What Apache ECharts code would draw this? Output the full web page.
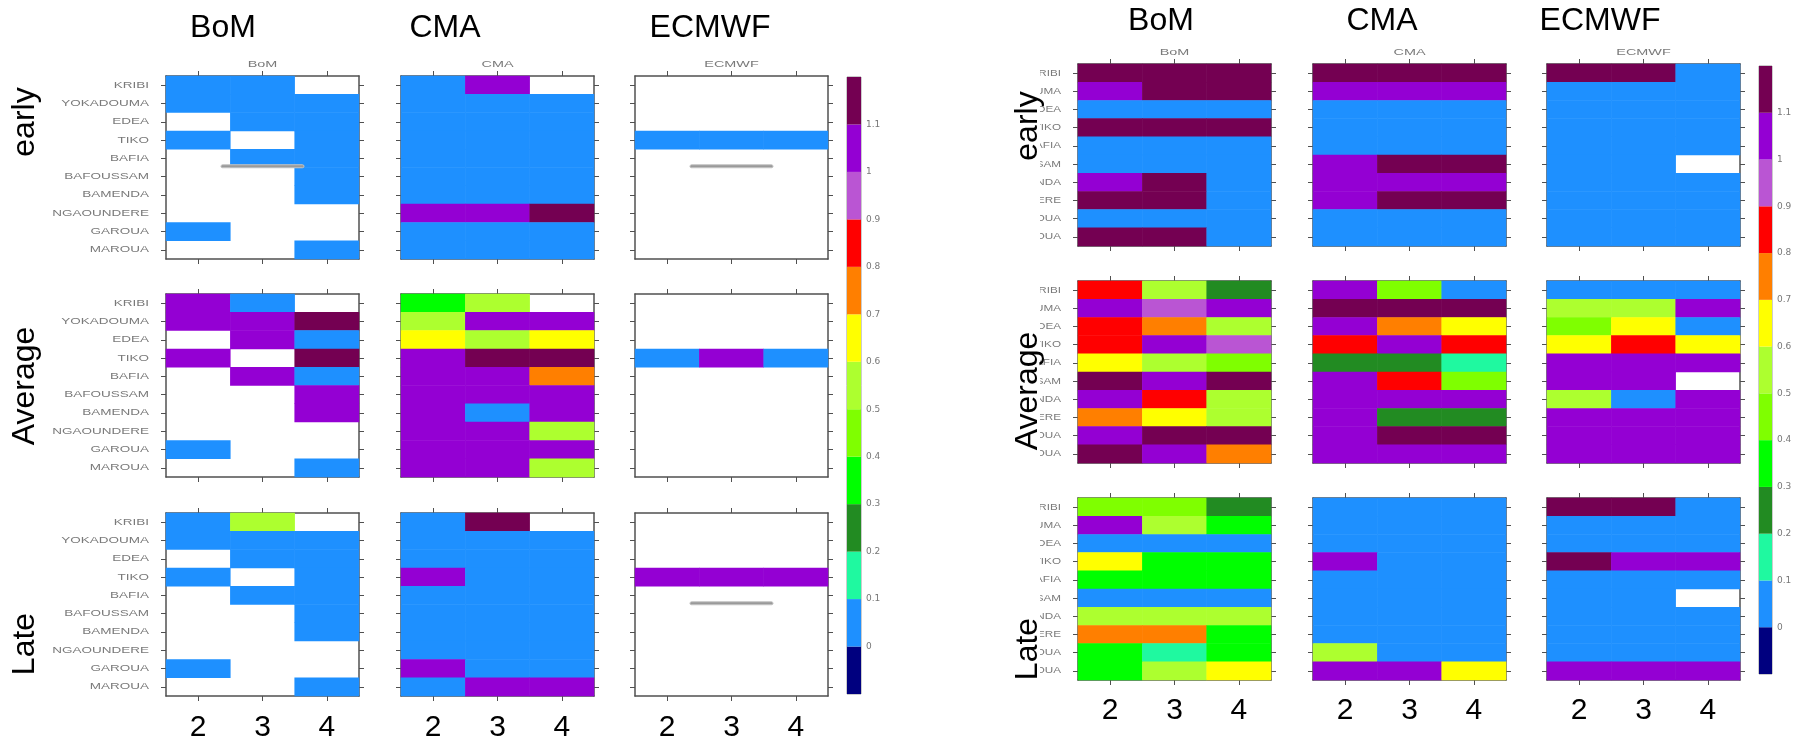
<!DOCTYPE html>
<html>
<head>
<meta charset="utf-8">
<script src="https://cdn.jsdelivr.net/npm/echarts@6/dist/echarts.min.js"></script>
<style>
html, body { margin: 0; padding: 0; background: #fff; }
#main { width: 1802px; height: 745px; }
</style>
</head>
<body>
<div id="main"></div>
<script>
var stations = ['KRIBI', 'YOKADOUMA', 'EDEA', 'TIKO', 'BAFIA', 'BAFOUSSAM', 'BAMENDA', 'NGAOUNDERE', 'GAROUA', 'MAROUA'];
var leads = ['2', '3', '4'];
var models = ['BoM', 'CMA', 'ECMWF'];
var periods = ['early', 'Average', 'Late'];

// colour key: bin edges, colours, printed labels
var breaks = [-0.1, 0, 0.1, 0.2, 0.3, 0.4, 0.5, 0.6, 0.7, 0.8, 0.9, 1, 1.1, 1.2];
var binColors = ['#00007f', '#1e90ff', '#1ff9a0', '#228b22', '#00ff00', '#7fff00', '#adff2f',
    '#ffff00', '#ff7f00', '#ff0000', '#ba55d3', '#9400d3', '#740052'];
var keyLabels = ['0', '0.1', '0.2', '0.3', '0.4', '0.5', '0.6', '0.7', '0.8', '0.9', '1', '1.1'];

// rows = stations (KRIBI..MAROUA), columns = lead 2,3,4 ; '-' = no value (white)
// ---- left figure ----
var bomEarlyL = [[0.05, 0.05, '-'], [0.05, 0.05, 0.05], ['-', 0.05, 0.05], [0.05, '-', 0.05], ['-', 0.05, 0.05],
    ['-', '-', 0.05], ['-', '-', 0.05], ['-', '-', '-'], [0.05, '-', '-'], ['-', '-', 0.05]];
var cmaEarlyL = [[0.05, 1.05, '-'], [0.05, 0.05, 0.05], [0.05, 0.05, 0.05], [0.05, 0.05, 0.05], [0.05, 0.05, 0.05],
    [0.05, 0.05, 0.05], [0.05, 0.05, 0.05], [1.05, 1.05, 1.15], [0.05, 0.05, 0.05], [0.05, 0.05, 0.05]];
var ecmwfEarlyL = [['-', '-', '-'], ['-', '-', '-'], ['-', '-', '-'], [0.05, 0.05, 0.05], ['-', '-', '-'],
    ['-', '-', '-'], ['-', '-', '-'], ['-', '-', '-'], ['-', '-', '-'], ['-', '-', '-']];
var bomAvgL = [[1.05, 0.05, '-'], [1.05, 1.05, 1.15], ['-', 1.05, 0.05], [1.05, '-', 1.15], ['-', 1.05, 0.05],
    ['-', '-', 1.05], ['-', '-', 1.05], ['-', '-', '-'], [0.05, '-', '-'], ['-', '-', 0.05]];
var cmaAvgL = [[0.35, 0.55, '-'], [0.55, 1.05, 1.05], [0.65, 0.55, 0.65], [1.05, 1.15, 1.15], [1.05, 1.05, 0.75],
    [1.05, 1.05, 1.05], [1.05, 0.05, 1.05], [1.05, 1.05, 0.55], [1.05, 1.05, 1.05], [1.05, 1.05, 0.55]];
var ecmwfAvgL = [['-', '-', '-'], ['-', '-', '-'], ['-', '-', '-'], [0.05, 1.05, 0.05], ['-', '-', '-'],
    ['-', '-', '-'], ['-', '-', '-'], ['-', '-', '-'], ['-', '-', '-'], ['-', '-', '-']];
var bomLateL = [[0.05, 0.55, '-'], [0.05, 0.05, 0.05], ['-', 0.05, 0.05], [0.05, '-', 0.05], ['-', 0.05, 0.05],
    ['-', '-', 0.05], ['-', '-', 0.05], ['-', '-', '-'], [0.05, '-', '-'], ['-', '-', 0.05]];
var cmaLateL = [[0.05, 1.15, '-'], [0.05, 0.05, 0.05], [0.05, 0.05, 0.05], [1.05, 0.05, 0.05], [0.05, 0.05, 0.05],
    [0.05, 0.05, 0.05], [0.05, 0.05, 0.05], [0.05, 0.05, 0.05], [1.05, 0.05, 0.05], [0.05, 1.05, 1.05]];
var ecmwfLateL = [['-', '-', '-'], ['-', '-', '-'], ['-', '-', '-'], [1.05, 1.05, 1.05], ['-', '-', '-'],
    ['-', '-', '-'], ['-', '-', '-'], ['-', '-', '-'], ['-', '-', '-'], ['-', '-', '-']];

// ---- right figure ----
var bomEarlyR = [[1.15, 1.15, 1.15], [1.05, 1.15, 1.15], [0.05, 0.05, 0.05], [1.15, 1.15, 1.15], [0.05, 0.05, 0.05],
    [0.05, 0.05, 0.05], [1.05, 1.15, 0.05], [1.15, 1.15, 0.05], [0.05, 0.05, 0.05], [1.15, 1.15, 0.05]];
var cmaEarlyR = [[1.15, 1.15, 1.15], [1.05, 1.05, 1.05], [0.05, 0.05, 0.05], [0.05, 0.05, 0.05], [0.05, 0.05, 0.05],
    [1.05, 1.15, 1.15], [1.05, 1.05, 1.05], [1.05, 1.15, 1.15], [0.05, 0.05, 0.05], [0.05, 0.05, 0.05]];
var ecmwfEarlyR = [[1.15, 1.15, 0.05], [0.05, 0.05, 0.05], [0.05, 0.05, 0.05], [0.05, 0.05, 0.05], [0.05, 0.05, 0.05],
    [0.05, 0.05, '-'], [0.05, 0.05, 0.05], [0.05, 0.05, 0.05], [0.05, 0.05, 0.05], [0.05, 0.05, 0.05]];
var bomAvgR = [[0.85, 0.55, 0.25], [1.05, 0.95, 1.05], [0.85, 0.75, 0.55], [0.85, 1.05, 0.95], [0.65, 0.55, 0.45],
    [1.15, 1.05, 1.15], [1.05, 0.85, 0.55], [0.75, 0.65, 0.55], [1.05, 1.15, 1.15], [1.15, 1.05, 0.75]];
var cmaAvgR = [[1.05, 0.45, 0.05], [1.15, 1.15, 1.15], [1.05, 0.75, 0.65], [0.85, 1.05, 0.85], [0.25, 0.25, 0.15],
    [1.05, 0.85, 0.45], [1.05, 1.05, 1.05], [1.05, 0.25, 0.25], [1.05, 1.15, 1.15], [1.05, 1.05, 1.05]];
var ecmwfAvgR = [[0.05, 0.05, 0.05], [0.55, 0.55, 1.05], [0.45, 0.65, 0.05], [0.65, 0.85, 0.65], [1.05, 1.05, 1.05],
    [1.05, 1.05, '-'], [0.55, 0.05, 1.05], [1.05, 1.05, 1.05], [1.05, 1.05, 1.05], [1.05, 1.05, 1.05]];
var bomLateR = [[0.45, 0.45, 0.25], [1.05, 0.55, 0.35], [0.05, 0.05, 0.05], [0.65, 0.35, 0.35], [0.35, 0.35, 0.35],
    [0.05, 0.05, 0.05], [0.55, 0.55, 0.55], [0.75, 0.75, 0.35], [0.35, 0.15, 0.35], [0.35, 0.55, 0.65]];
var cmaLateR = [[0.05, 0.05, 0.05], [0.05, 0.05, 0.05], [0.05, 0.05, 0.05], [1.05, 0.05, 0.05], [0.05, 0.05, 0.05],
    [0.05, 0.05, 0.05], [0.05, 0.05, 0.05], [0.05, 0.05, 0.05], [0.55, 0.05, 0.05], [1.05, 1.05, 0.65]];
var ecmwfLateR = [[1.15, 1.15, 0.05], [0.05, 0.05, 0.05], [0.05, 0.05, 0.05], [1.15, 1.05, 1.05], [0.05, 0.05, 0.05],
    [0.05, 0.05, '-'], [0.05, 0.05, 0.05], [0.05, 0.05, 0.05], [0.05, 0.05, 0.05], [1.05, 1.05, 1.05]];

// layout of the two figures (pixels)
var figs = [
    {
        colX: [166, 401, 635], w: 193, rowY: [76, 294, 513], h: 183,
        data: [[bomEarlyL, cmaEarlyL, ecmwfEarlyL], [bomAvgL, cmaAvgL, ecmwfAvgL], [bomLateL, cmaLateL, ecmwfLateL]],
        key: {x: 847, y: 77, w: 14, h: 617},
        titleX: [223, 445, 710], titleY: 28,
        rowLabelX: 25, rowLabelY: [122, 386, 644],
        leadY: 728, mask: {x: 0, w: 52}, labelScale: 1.5,
        // little grey boxes left inside some panels: [row, col]
        blobs: [[0, 0], [0, 2], [2, 2]]
    },
    {
        colX: [1078, 1313, 1547], w: 193, rowY: [64, 281, 498], h: 182,
        data: [[bomEarlyR, cmaEarlyR, ecmwfEarlyR], [bomAvgR, cmaAvgR, ecmwfAvgR], [bomLateR, cmaLateR, ecmwfLateR]],
        key: {x: 1759, y: 66, w: 13, h: 608},
        titleX: [1161, 1382, 1600], titleY: 21,
        rowLabelX: 1028, rowLabelY: [126, 391, 649],
        leadY: 711, mask: {x: 890, w: 150}, labelScale: 1.3,
        blobs: []
    }
];

var frameColor = '#505050';
var grids = [], xAxes = [], yAxes = [], series = [], graphics = [], heatIdx = [];

function frameAxis(extra) {
    var a = {
        axisLine: {show: true, lineStyle: {color: frameColor, width: 1.5}},
        axisTick: {show: true, alignWithLabel: true, length: 5, lineStyle: {color: frameColor}},
        axisLabel: {show: false},
        splitLine: {show: false},
        splitArea: {show: false}
    };
    for (var k in extra) a[k] = extra[k];
    return a;
}

function smallText(txt, x, y, align, sx) {
    return {type: 'text', x: x, y: y, scaleX: sx, silent: true,
        style: {text: txt, fontFamily: 'Liberation Sans', fontSize: 9, fill: '#7a7a7a',
            textAlign: align, textVerticalAlign: 'middle'}};
}

figs.forEach(function (f, fi) {
    var rowH = f.h / stations.length;
    for (var r = 0; r < 3; r++) {
        for (var c = 0; c < 3; c++) {
            var gi = grids.length;
            grids.push({left: f.colX[c], top: f.rowY[r], width: f.w, height: f.h});
            var xi = xAxes.length, yi = yAxes.length;
            xAxes.push(frameAxis({type: 'category', data: leads, gridIndex: gi, position: 'bottom'}));
            xAxes.push(frameAxis({type: 'category', data: leads, gridIndex: gi, position: 'top'}));
            yAxes.push(frameAxis({type: 'category', data: stations, gridIndex: gi, position: 'left', inverse: true}));
            yAxes.push(frameAxis({type: 'category', data: stations, gridIndex: gi, position: 'right', inverse: true}));

            var vals = f.data[r][c], pts = [];
            for (var s = 0; s < stations.length; s++) {
                for (var l = 0; l < leads.length; l++) {
                    if (vals[s][l] !== '-') pts.push([l, s, vals[s][l]]);
                }
            }
            heatIdx.push(series.length);
            series.push({type: 'heatmap', xAxisIndex: xi, yAxisIndex: yi, data: pts, silent: true,
                itemStyle: {borderWidth: 0}});

            // station names, stretched like the original raster text
            if (c === 0) {
                for (var s2 = 0; s2 < stations.length; s2++) {
                    graphics.push(smallText(stations[s2], f.colX[0] - 17, f.rowY[r] + rowH * (s2 + 0.5), 'right', f.labelScale));
                }
            }
            if (r === 0) {
                graphics.push(smallText(models[c], f.colX[c] + f.w / 2, f.rowY[0] - 11, 'center', 1.6));
                graphics.push({type: 'text', x: f.titleX[c], y: f.titleY, z: 60,
                    style: {text: models[c], fontFamily: 'Liberation Sans', fontSize: 32, fill: '#000',
                        textAlign: 'center', textVerticalAlign: 'middle'}});
            }
            if (r === 2) {
                for (var l2 = 0; l2 < leads.length; l2++) {
                    graphics.push({type: 'text', x: f.colX[c] + f.w * (l2 + 0.5) / 3, y: f.leadY,
                        style: {text: leads[l2], fontFamily: 'Liberation Sans', fontSize: 30, fill: '#000',
                            textAlign: 'center', textVerticalAlign: 'middle'}});
                }
            }
        }
        graphics.push({type: 'text', x: f.rowLabelX, y: f.rowLabelY[r], rotation: Math.PI / 2, z: 60,
            style: {text: periods[r], fontFamily: 'Liberation Sans', fontSize: 32, fill: '#000',
                textAlign: 'center', textVerticalAlign: 'middle'}});
    }

    f.blobs.forEach(function (bp) {
        graphics.push({type: 'rect', x: f.colX[bp[1]] + f.w * 0.285, y: f.rowY[bp[0]] + rowH * 4.85,
            shape: {width: f.w * 0.43, height: 3, r: 1.5},
            style: {fill: '#9a9a9a', stroke: '#c4c4c4', lineWidth: 1}, z: 20});
    });

    // white strip clipping the station names, like the cropped original
    graphics.push({type: 'rect', shape: {x: f.mask.x, y: 40, width: f.mask.w, height: 670},
        style: {fill: '#fff'}, z: 50});

    // colour key drawn as stacked bars on a value axis
    var kg = grids.length;
    grids.push({left: f.key.x, top: f.key.y, width: f.key.w, height: f.key.h,
        show: true, borderColor: '#999', borderWidth: 1});
    var kx = xAxes.length, ky = yAxes.length;
    xAxes.push({type: 'category', data: [''], gridIndex: kg, show: false});
    yAxes.push({type: 'value', gridIndex: kg, min: -0.1, max: 1.2, interval: 0.1, position: 'right',
        axisLine: {show: false}, axisTick: {show: false}, splitLine: {show: false},
        axisLabel: {fontFamily: 'DejaVu Sans', fontSize: 9, color: '#777', margin: 5,
            formatter: function (v) {
                var i = Math.round(v * 10);
                return (i >= 0 && i < keyLabels.length) ? keyLabels[i] : '';
            }}});
    for (var b = 0; b < binColors.length; b++) {
        var lo = breaks[b], hi = breaks[b + 1];
        series.push({type: 'bar', xAxisIndex: kx, yAxisIndex: ky, stack: 'key' + fi, silent: true,
            barWidth: '100%', data: [lo < 0 ? lo : +(hi - lo).toFixed(2)],
            itemStyle: {color: binColors[b]}});
    }
});

var pieces = [];
for (var p = 0; p < binColors.length; p++) {
    var piece = {color: binColors[p]};
    if (p > 0) piece.gte = breaks[p];
    if (p < binColors.length - 1) piece.lt = breaks[p + 1];
    pieces.push(piece);
}

var chart = echarts.init(document.getElementById('main'));
chart.setOption({
    animation: false,
    backgroundColor: '#fff',
    grid: grids,
    xAxis: xAxes,
    yAxis: yAxes,
    visualMap: {type: 'piecewise', show: false, dimension: 2, seriesIndex: heatIdx, pieces: pieces},
    graphic: graphics,
    series: series
});
</script>
</body>
</html>
